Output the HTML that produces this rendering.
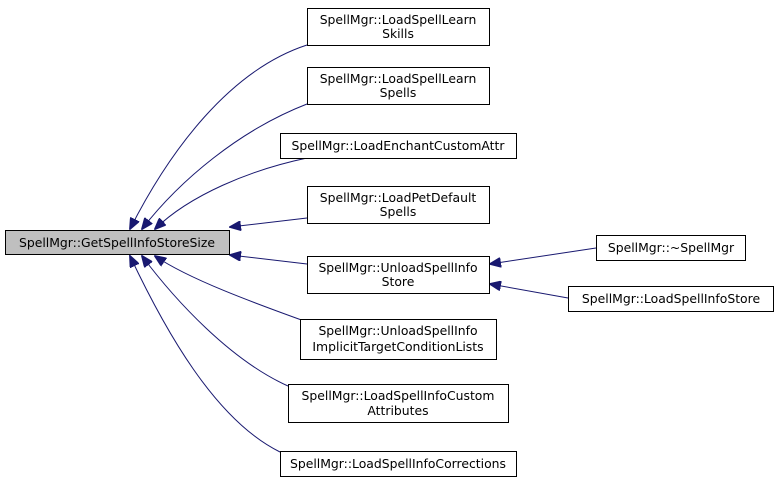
<!DOCTYPE html>
<html><head><style>
body{margin:0;background:#fff}
svg text{font-family:"DejaVu Sans","Liberation Sans",sans-serif;font-size:12.4px;fill:#000}
</style></head><body>
<svg width="779" height="482" viewBox="0 0 779 482" xmlns="http://www.w3.org/2000/svg">
<defs><marker id="a" markerWidth="12" markerHeight="10" refX="11" refY="5" orient="auto" markerUnits="userSpaceOnUse"><path d="M0,0 L12,5 L0,10 z" fill="#191970" stroke="#191970"/></marker></defs>
<g fill="none" stroke="#191970" stroke-width="1" marker-end="url(#a)">
<path d="M307,45 C230,70 170,150 130,229"/>
<path d="M307,104 C240,130 180,180 142,229"/>
<path d="M307,158 C250,170 190,195 155,229"/>
<path d="M307,218 L230,227"/>
<path d="M307,264 L230,255"/>
<path d="M307,322 C260,305 190,280 155,256"/>
<path d="M288,386 C230,360 175,300 142,256"/>
<path d="M280,452 C215,420 165,330 130,256"/>
<path d="M596,248 L490,264"/>
<path d="M568,298 L490,284"/>
</g>
<g stroke="#000" stroke-width="1" fill="#fff">
<rect x="5.5" y="230.5" width="224" height="24" fill="#bfbfbf"/>
<rect x="307.5" y="8.5" width="182" height="37"/>
<rect x="307.5" y="67.5" width="182" height="37"/>
<rect x="280.5" y="133.5" width="236" height="25"/>
<rect x="307.5" y="186.5" width="182" height="37"/>
<rect x="307.5" y="256.5" width="182" height="37"/>
<rect x="300.5" y="319.5" width="196" height="40"/>
<rect x="288.5" y="384.5" width="220" height="38"/>
<rect x="280.5" y="451.5" width="236" height="25"/>
<rect x="596.5" y="235.5" width="149" height="25"/>
<rect x="568.5" y="286.5" width="205" height="25"/>
</g>
<g text-anchor="middle">
<text x="117" y="247">SpellMgr::GetSpellInfoStoreSize</text>
<text x="398" y="24">SpellMgr::LoadSpellLearn</text><text x="398" y="38">Skills</text>
<text x="398" y="83">SpellMgr::LoadSpellLearn</text><text x="398" y="97">Spells</text>
<text x="398" y="150">SpellMgr::LoadEnchantCustomAttr</text>
<text x="398" y="202">SpellMgr::LoadPetDefault</text><text x="398" y="216">Spells</text>
<text x="398" y="272">SpellMgr::UnloadSpellInfo</text><text x="398" y="286">Store</text>
<text x="398" y="335">SpellMgr::UnloadSpellInfo</text><text x="398" y="351">ImplicitTargetConditionLists</text>
<text x="398" y="400">SpellMgr::LoadSpellInfoCustom</text><text x="398" y="415">Attributes</text>
<text x="398" y="468">SpellMgr::LoadSpellInfoCorrections</text>
<text x="671" y="252">SpellMgr::~SpellMgr</text>
<text x="671" y="303">SpellMgr::LoadSpellInfoStore</text>
</g>
</svg>
</body></html>
